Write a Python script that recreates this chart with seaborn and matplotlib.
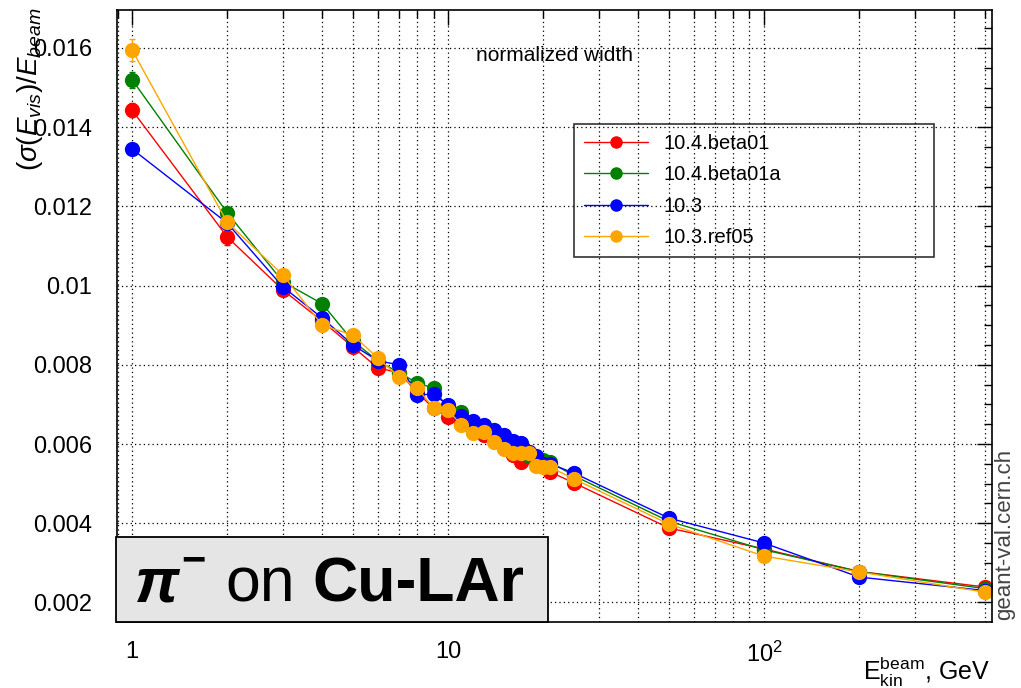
import numpy as np
import pandas as pd
import matplotlib
matplotlib.use("Agg")
import matplotlib.pyplot as plt
import matplotlib.ticker as mticker
from matplotlib.patches import Rectangle
import seaborn as sns

# beam kinetic energies, GeV
energies = [1, 2, 3, 4, 5, 6, 7, 8, 9, 10, 11, 12, 13, 14, 15, 16, 17, 18, 19, 20, 21,
            25, 50, 100, 200, 500]

releases = ["10.4.beta01", "10.4.beta01a", "10.3", "10.3.ref05"]
colours = ["red", "green", "blue", "orange"]

# normalized width sigma(E_vis)/E_beam
w_beta01 = [0.01443, 0.01123, 0.00989, 0.00910, 0.00845, 0.00792, 0.00780, 0.00730, 0.00690,
            0.00668, 0.00650, 0.00630, 0.00623, 0.00610, 0.00590, 0.00572, 0.00555, 0.00580,
            0.00550, 0.00550, 0.00530, 0.00502, 0.00388, 0.00335, 0.00278, 0.00239]
w_beta01a = [0.01520, 0.01184, 0.01010, 0.00954, 0.00860, 0.00810, 0.00780, 0.00754, 0.00741,
             0.00690, 0.00680, 0.00650, 0.00640, 0.00620, 0.00600, 0.00590, 0.00580, 0.00570,
             0.00560, 0.00560, 0.00555, 0.00520, 0.00405, 0.00333, 0.00278, 0.00235]
w_103 = [0.01345, 0.01158, 0.00997, 0.00918, 0.00850, 0.00810, 0.00800, 0.00724, 0.00726,
         0.00698, 0.00670, 0.00658, 0.00648, 0.00635, 0.00623, 0.00608, 0.00603, 0.00580,
         0.00570, 0.00550, 0.00550, 0.00527, 0.00413, 0.00350, 0.00264, 0.00230]
w_ref05 = [0.01595, 0.01160, 0.01027, 0.00900, 0.00875, 0.00817, 0.00769, 0.00741, 0.00691,
           0.00686, 0.00648, 0.00628, 0.00630, 0.00605, 0.00587, 0.00577, 0.00577, 0.00577,
           0.00545, 0.00542, 0.00542, 0.00512, 0.00398, 0.00317, 0.00277, 0.00226]

# error bars only visible at the lowest energies
err_energies = [1, 2, 3]
err_beta01 = [0.00018, 0.00020, 0.00012]
err_beta01a = [0.00020, 0.00015, 0.00012]
err_103 = [0.00012, 0.00015, 0.00012]
err_ref05 = [0.00027, 0.00020, 0.00012]

widths = [w_beta01, w_beta01a, w_103, w_ref05]
errors = [err_beta01, err_beta01a, err_103, err_ref05]

rows = []
for rel, w in zip(releases, widths):
    for e, v in zip(energies, w):
        rows.append({"energy": e, "width": v, "release": rel})
df = pd.DataFrame(rows)

sns.set_style("white")
plt.rcParams["font.family"] = ["Liberation Sans", "DejaVu Sans"]
plt.rcParams["text.color"] = "black"
plt.rcParams["axes.labelcolor"] = "black"
plt.rcParams["xtick.color"] = "black"
plt.rcParams["ytick.color"] = "black"
plt.rcParams["mathtext.fontset"] = "custom"
plt.rcParams["mathtext.rm"] = "Liberation Sans"
plt.rcParams["mathtext.it"] = "Liberation Sans:italic"
plt.rcParams["mathtext.bf"] = "Liberation Sans:bold"

fig = plt.figure(figsize=(10.21, 6.88), dpi=100)
ax = fig.add_axes([0.1146, 0.0959, 0.857, 0.8896])

palette = dict(zip(releases, colours))
sns.lineplot(data=df, x="energy", y="width", hue="release", hue_order=releases,
             palette=palette, marker="o", markersize=11, markeredgewidth=0,
             linewidth=1, sort=False, estimator=None, ax=ax)

for rel, err, w in zip(releases, errors, widths):
    ax.errorbar(err_energies, w[:len(err_energies)], yerr=err, fmt="none",
                ecolor=palette[rel], elinewidth=1, capsize=2, zorder=1)

ax.set_xscale("log")
ax.set_xlim(0.896, 527)
ax.set_ylim(0.001505, 0.01696)

ax.xaxis.set_major_locator(mticker.FixedLocator([1, 10, 100]))
ax.xaxis.set_major_formatter(mticker.FixedFormatter(["1", "10", "$10^{2}$"]))
ax.xaxis.set_minor_locator(mticker.LogLocator(base=10, subs=np.arange(2, 10)))
ax.xaxis.set_minor_formatter(mticker.NullFormatter())
ax.yaxis.set_major_locator(mticker.MultipleLocator(0.002))
ax.yaxis.set_minor_locator(mticker.MultipleLocator(0.0005))
ax.yaxis.set_major_formatter(mticker.FuncFormatter(lambda v, p: f"{v:g}"))

ax.tick_params(which="both", direction="in", top=True, right=True, color="black", width=1)
ax.tick_params(which="major", length=11, labelsize=17)
ax.tick_params(which="minor", length=6)
ax.tick_params(axis="x", pad=14)
ax.tick_params(axis="y", pad=18)

ax.grid(True, which="major", axis="both", color="black", linestyle=(0, (1, 2.5)), linewidth=0.9)
ax.grid(True, which="minor", axis="x", color="black", linestyle=(0, (1, 2.5)), linewidth=0.9)
for s in ax.spines.values():
    s.set_color("black")
    s.set_linewidth(1.2)

ax.set_xlabel("")
ax.set_ylabel("")

leg = ax.legend(loc="upper left", bbox_to_anchor=(0.522, 0.600, 0.412, 0.214), mode="expand",
                borderaxespad=0, fontsize=14.5, handlelength=3.2, handletextpad=0.75,
                labelspacing=0.62, frameon=True, fancybox=False, borderpad=0.5)
leg.get_frame().set_facecolor("none")
leg.get_frame().set_edgecolor("black")
leg.get_frame().set_linewidth(1.2)
for h in leg.legend_handles:
    h.set_markersize(9)

ax.text(0.5, 0.926, "normalized width", transform=ax.transAxes, fontsize=15,
        ha="center", va="center")

fig.text(30 / 1021, 1 - 8 / 688, r"$(\sigma(E_{vis})/E_{beam}$", rotation=90,
         fontsize=20, ha="center", va="top")
fig.text(990 / 1021, 1 - 680 / 688, r"$\mathrm{E_{kin}^{beam}}$, GeV", fontsize=18,
         ha="right", va="baseline")
fig.text(1005 / 1021, 1 - 620 / 688, "geant-val.cern.ch", rotation=90, fontsize=16,
         color="#444444", ha="center", va="bottom")

# particle / target label box
fig.patches.append(Rectangle((116 / 1021, 1 - 622 / 688), 432 / 1021, 85 / 688,
                             transform=fig.transFigure, facecolor="#e5e5e5",
                             edgecolor="black", linewidth=1.3, zorder=5))
base_y = 1 - 602 / 688
fig.text(135 / 1021, base_y, "π", fontsize=45, fontweight="bold", style="italic",
         ha="left", va="baseline", zorder=6)
fig.text(181 / 1021, 1 - 572 / 688, "\u2212", fontsize=30, fontweight="bold",
         ha="left", va="baseline", zorder=6)
fig.text(225 / 1021, base_y, "on", fontsize=45, ha="left", va="baseline", zorder=6)
fig.text(312 / 1021, base_y, "Cu-LAr", fontsize=45, fontweight="bold",
         ha="left", va="baseline", zorder=6)

fig.savefig("out.png", dpi=100)
